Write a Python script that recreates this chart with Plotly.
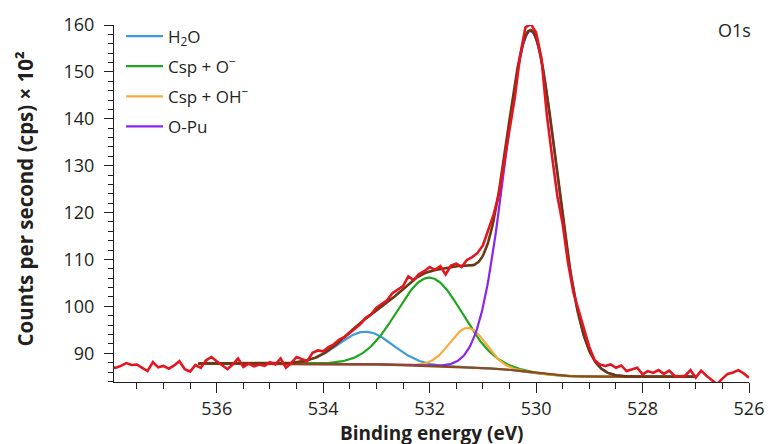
import numpy as np
import plotly.graph_objects as go

# Measured O1s spectrum, 0.1 eV steps from 538.0 down to 526.0 eV
binding_energy = np.round(np.arange(538.0, 525.95, -0.1), 1)
counts = [
    87.1, 86.9, 87.3, 87.9, 87.5, 87.6, 86.9, 86.2, 88.1, 87.0,
    87.3, 86.7, 87.4, 88.3, 86.6, 86.1, 87.5, 86.9, 88.5, 89.2,
    88.3, 87.4, 86.6, 87.6, 88.9, 87.1, 87.8, 87.2, 87.6, 87.3,
    88.1, 87.6, 88.9, 86.9, 87.9, 89.2, 88.7, 88.3, 90.1, 90.6,
    90.4, 91.3, 91.9, 92.9, 93.4, 94.3, 95.1, 96.2, 97.6, 98.3,
    99.7, 100.5, 101.3, 102.8, 103.5, 104.3, 106.4, 105.6, 106.9, 107.5,
    108.4, 107.8, 108.6, 106.8, 108.7, 109.1, 108.4, 109.9, 110.5, 111.4,
    113.0, 116.2, 119.5, 123.8, 130.8, 137.5, 144.5, 153.5, 159.5, 160.2,
    158.4, 153.0, 141.0, 132.0, 123.5, 117.5, 109.3, 103.0, 99.0, 95.0,
    91.3, 88.5, 87.6, 87.3, 87.6, 86.9, 87.4, 86.2, 86.6, 86.9,
    85.5, 86.2, 85.8, 86.4, 85.6, 86.3, 85.2, 85.1, 85.2, 86.4,
    84.8, 86.3, 85.2, 84.3, 83.4, 84.6, 85.6, 85.9, 86.4, 85.7,
    84.8,
]

# Fitted components: position (eV), FWHM (eV), height above background
peak_names = ["H<sub>2</sub>O", "Csp + O<sup>−</sup>", "Csp + OH<sup>−</sup>", "O-Pu"]
peak_centers = [533.2, 532.0, 531.28, 530.1]
peak_fwhm = [1.2, 1.45, 0.8, 1.14]
peak_heights = [6.9, 18.8, 8.4, 72.8]
peak_colors = ["#3d9bd8", "#1fa51f", "#fbaa3c", "#8a24ee"]

# Shirley background levels on the high / low binding-energy side of the fit window
bg_high = 87.8
bg_low = 85.0
fit_window = [536.35, 527.0]

data_color = "#e3161f"
envelope_color = "#6b3814"
background_color = "#8e4a1b"

# ---- model curves on the fit window ----
e_fit = np.linspace(fit_window[0], fit_window[1], 500)


def gaussian(e, center, fwhm, height):
    sigma = fwhm / (2.0 * np.sqrt(2.0 * np.log(2.0)))
    return height * np.exp(-0.5 * ((e - center) / sigma) ** 2)


components = [gaussian(e_fit, c, w, h) for c, w, h in zip(peak_centers, peak_fwhm, peak_heights)]
peak_sum = np.sum(components, axis=0)

# Shirley step: proportional to the peak area lying at lower binding energy
step = np.abs(np.diff(e_fit))
area_low_side = np.concatenate([np.cumsum((peak_sum[:-1] + peak_sum[1:])[::-1] / 2 * step[::-1])[::-1], [0.0]])
background = bg_low + (bg_high - bg_low) * area_low_side / area_low_side[0]
envelope = background + peak_sum

font_family = "Open Sans, Noto Sans, Arial, sans-serif"
text_color = "#231f20"

fig = go.Figure()

for name, comp, color in zip(peak_names, components, peak_colors):
    fig.add_trace(go.Scatter(
        x=e_fit, y=background + comp, mode="lines", name=name,
        legendgroup=name, line=dict(color=color, width=2.2),
    ))

fig.add_trace(go.Scatter(
    x=e_fit, y=background, mode="lines", showlegend=False,
    line=dict(color=background_color, width=2.2),
))
fig.add_trace(go.Scatter(
    x=e_fit, y=envelope, mode="lines", showlegend=False,
    line=dict(color=envelope_color, width=2.6),
))
fig.add_trace(go.Scatter(
    x=binding_energy, y=counts, mode="lines", showlegend=False,
    line=dict(color=data_color, width=2.6),
))

fig.update_layout(
    width=776, height=444,
    margin=dict(l=114, r=19, t=22, b=62),
    paper_bgcolor="white", plot_bgcolor="white",
    font=dict(family=font_family, size=18, color=text_color),
    legend=dict(
        x=0.011, y=1.018, xanchor="left", yanchor="top",
        bgcolor="rgba(0,0,0,0)", font=dict(size=17, color=text_color),
        tracegroupgap=5, itemwidth=37, traceorder="grouped",
    ),
    xaxis=dict(
        range=[537.93, 526.0], showgrid=False, zeroline=False,
        showline=True, linecolor=text_color, linewidth=1.2,
        ticks="outside", ticklen=10, tickwidth=1.2, tickcolor=text_color,
        tick0=526, dtick=2, tickfont=dict(size=18),
        minor=dict(ticks="outside", ticklen=6, tickwidth=1.2, tickcolor=text_color, dtick=0.5, tick0=526, showgrid=False),
    ),
    yaxis=dict(
        range=[83.87, 160.0], showgrid=False, zeroline=False,
        showline=True, linecolor=text_color, linewidth=1.2,
        ticks="outside", ticklen=9, tickwidth=1.2, tickcolor=text_color,
        tick0=90, dtick=10, tickfont=dict(size=18), ticklabelstandoff=6,
        minor=dict(ticks="outside", ticklen=5, tickwidth=1.2, tickcolor=text_color, dtick=2, showgrid=False),
    ),
    annotations=[
        dict(text="O1s", x=1.0, y=0.985, xref="paper", yref="paper",
             xanchor="right", yanchor="middle", xshift=4, showarrow=False,
             font=dict(size=18, color=text_color)),
        dict(text="<b>Binding energy (eV)</b>", x=0.5, y=0, xref="paper", yref="paper",
             xanchor="center", yanchor="top", yshift=-36, showarrow=False,
             font=dict(size=19, color=text_color)),
        dict(text="<b>Counts per second (cps) × 10²</b>", x=0, y=0.5, xref="paper", yref="paper",
             xanchor="center", yanchor="middle", xshift=-90, yshift=5, textangle=-90, showarrow=False,
             font=dict(size=20.5, color=text_color)),
    ],
)

fig.write_html("out.html")
